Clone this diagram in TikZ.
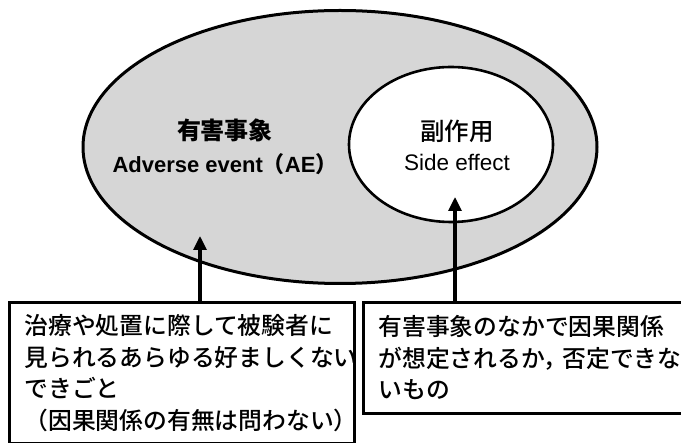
\documentclass[tikz,border=0pt]{standalone}
\usepackage{fontspec}
\setmainfont{Liberation Sans}
\newfontfamily\cjk{Noto Sans CJK JP}
\newfontfamily\cjkm{Noto Sans CJK JP Medium}
\usetikzlibrary{arrows.meta,shapes.geometric}
\definecolor{aegray}{RGB}{214,214,214}
\tikzset{
  ring/.style={draw=black, line width=3pt, ellipse, inner sep=0pt},
  notebox/.style={draw=black, line width=3pt, rectangle, anchor=north west, align=left,
     inner xsep=15pt, inner ysep=0pt, font=\cjkm\fontsize{23.8}{31.5}\selectfont},
  arr/.style={line width=3.2pt, -{Triangle[length=14pt,width=13pt]}},
  lbl/.style={align=center, inner sep=0pt}
}
\begin{document}
\begin{tikzpicture}[x=1pt,y=-1pt]
\useasboundingbox (0,0) rectangle (681,443);
\clip (0,0) rectangle (681,443);
\node[ring, fill=aegray, minimum width=514pt, minimum height=273pt] (ae) at (340,147) {};
\node[ring, line width=2.6pt, fill=white, minimum width=204pt, minimum height=155pt] (se) at (451,144.5) {};
\node[lbl, font=\fontsize{22}{33}\selectfont] (aet) at (225,146.5)
  {{\cjk\bfseries\fontsize{24}{33}\selectfont 有害事象}\\\textbf{Adverse event}{\cjk\bfseries （}\textbf{AE}{\cjk\bfseries ）}};
\node[lbl, font=\fontsize{22.5}{30}\selectfont] (set) at (457,145)
  {{\cjkm\fontsize{24.5}{30}\selectfont 副作用}\\Side effect};
\node[notebox, text width=315pt, minimum height=141pt] (lb) at (8,301)
  {治療や処置に際して被験者に\\見られるあらゆる好ましくない\\できごと\\（因果関係の有無は問わない）};
\node[notebox, text width=300pt, minimum height=111pt] (rb) at (362,301)
  {有害事象のなかで因果関係\\\mbox{が想定されるか，\kern-5pt 否定できな}\\いもの};
\coordinate (a1) at (200,236);
\coordinate (a2) at (455,197);
\draw[arr] (lb.north -| a1) -- (a1);
\draw[arr] (rb.north -| a2) -- (a2);
\end{tikzpicture}
\end{document}
